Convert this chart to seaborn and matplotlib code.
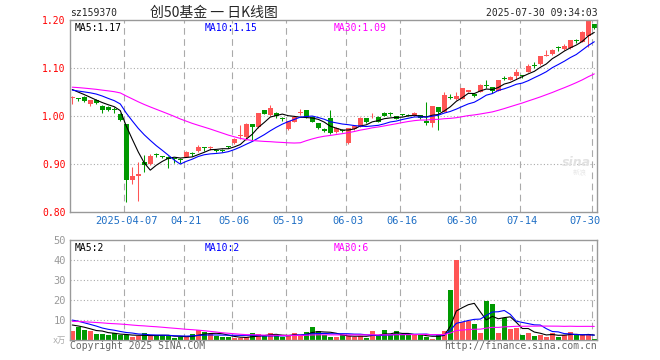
import matplotlib
matplotlib.use('Agg')
import matplotlib.pyplot as plt
import matplotlib.transforms as mtransforms
import numpy as np
import pandas as pd
import seaborn as sns

# 创50基金 sz159370 日K线, 2025-03-24 .. 2025-07-30 (88 个交易日)
opens = [1.037, 1.036, 1.039, 1.026, 1.034, 1.021, 1.018, 1.013, 1.004, 0.983,
         0.866, 0.876, 0.904, 0.899, 0.919, 0.916, 0.915, 0.911, 0.911, 0.915,
         0.922, 0.927, 0.935, 0.934, 0.929, 0.929, 0.936, 0.943, 0.959, 0.956,
         0.983, 0.977, 1.012, 1.002, 1.007, 0.994, 0.973, 0.988, 1.006, 1.012,
         0.998, 0.985, 0.973, 0.995, 0.966, 0.970, 0.944, 0.972, 0.978, 0.995,
         0.999, 0.998, 1.007, 1.005, 1.000, 1.003, 1.002, 1.000, 1.002, 0.990,
         0.985, 1.018, 1.009, 1.039, 1.035, 1.036, 1.051, 1.046, 1.051, 1.063,
         1.060, 1.053, 1.079, 1.075, 1.083, 1.084, 1.092, 1.105, 1.108, 1.126,
         1.130, 1.142, 1.139, 1.141, 1.157, 1.155, 1.166, 1.191]
highs = [1.042, 1.038, 1.041, 1.034, 1.036, 1.023, 1.020, 1.018, 1.007, 0.983,
         0.893, 0.904, 0.918, 0.920, 0.922, 0.917, 0.916, 0.912, 0.912, 0.927,
         0.926, 0.939, 0.936, 0.937, 0.930, 0.931, 0.938, 0.955, 0.981, 0.985,
         0.984, 1.007, 1.013, 1.023, 1.009, 0.997, 0.990, 1.000, 1.014, 1.013,
         1.001, 0.986, 0.975, 1.012, 0.978, 0.972, 0.976, 0.982, 0.997, 0.996,
         1.007, 0.999, 1.009, 1.008, 1.001, 1.005, 1.004, 1.008, 1.003, 1.030,
         1.021, 1.019, 1.051, 1.045, 1.050, 1.059, 1.055, 1.047, 1.066, 1.075,
         1.061, 1.076, 1.084, 1.084, 1.097, 1.086, 1.108, 1.112, 1.125, 1.137,
         1.139, 1.146, 1.150, 1.159, 1.160, 1.177, 1.199, 1.192]
lows = [1.026, 1.031, 1.030, 1.020, 1.025, 1.006, 1.010, 1.007, 0.990, 0.820,
        0.858, 0.823, 0.884, 0.897, 0.914, 0.912, 0.891, 0.903, 0.903, 0.914,
        0.916, 0.926, 0.928, 0.930, 0.925, 0.925, 0.933, 0.942, 0.953, 0.950,
        0.951, 0.975, 1.004, 1.000, 0.995, 0.990, 0.971, 0.987, 1.002, 0.996,
        0.987, 0.972, 0.966, 0.962, 0.964, 0.967, 0.942, 0.971, 0.977, 0.986,
        0.996, 0.987, 0.999, 1.000, 0.993, 0.999, 0.999, 0.999, 0.994, 0.982,
        0.977, 0.970, 1.008, 1.036, 1.033, 1.035, 1.050, 1.040, 1.050, 1.059,
        1.048, 1.052, 1.074, 1.074, 1.077, 1.079, 1.091, 1.100, 1.107, 1.124,
        1.127, 1.136, 1.138, 1.140, 1.153, 1.154, 1.143, 1.181]
closes = [1.038, 1.035, 1.032, 1.033, 1.028, 1.012, 1.012, 1.012, 0.992, 0.867,
          0.875, 0.879, 0.898, 0.917, 0.918, 0.915, 0.911, 0.910, 0.908, 0.924,
          0.921, 0.935, 0.934, 0.935, 0.927, 0.928, 0.935, 0.953, 0.960, 0.984,
          0.978, 1.006, 1.005, 1.016, 1.000, 0.993, 0.989, 0.998, 1.007, 0.997,
          0.988, 0.975, 0.969, 0.965, 0.976, 0.969, 0.975, 0.980, 0.996, 0.988,
          1.000, 0.988, 1.000, 1.004, 0.994, 1.002, 1.001, 1.007, 0.995, 0.985,
          1.020, 1.009, 1.044, 1.038, 1.042, 1.058, 1.054, 1.042, 1.065, 1.062,
          1.053, 1.075, 1.078, 1.082, 1.092, 1.083, 1.104, 1.104, 1.124, 1.127,
          1.138, 1.141, 1.146, 1.158, 1.156, 1.176, 1.198, 1.183]
# 成交量 (万)
volumes = [4.5, 6.5, 5.0, 4.5, 3.2, 3.2, 2.5, 3.5, 2.3, 2.3,
           1.7, 2.0, 3.4, 1.8, 2.3, 2.3, 2.0, 1.2, 1.4, 1.4,
           2.8, 5.0, 4.0, 3.0, 2.0, 1.7, 1.5, 0.8, 1.0, 1.5,
           3.5, 3.0, 2.0, 3.3, 2.3, 1.5, 2.3, 3.5, 2.3, 4.2,
           6.5, 4.5, 2.5, 1.7, 1.7, 2.3, 2.0, 1.7, 2.0, 1.2,
           4.5, 2.3, 5.0, 2.3, 4.5, 2.3, 2.3, 2.3, 2.3, 1.7,
           0.7, 2.3, 4.5, 25.0, 40.0, 9.0, 9.7, 8.0, 3.7, 19.7,
           18.0, 3.7, 10.8, 5.7, 6.0, 2.5, 3.7, 2.0, 2.7, 1.7,
           3.7, 1.7, 2.3, 4.2, 2.3, 2.3, 2.8, 0.7]

# 前29个交易日 (只用于均线起点), 由图中均线起始位置估计
prev_closes = [1.060, 1.065, 1.070, 1.066, 1.062, 1.058, 1.064, 1.068, 1.060, 1.056,
               1.061, 1.066, 1.070, 1.065, 1.060, 1.058, 1.063, 1.067, 1.062, 1.059,
               1.055, 1.050, 1.052, 1.054, 1.053, 1.062, 1.058, 1.061, 1.057]
prev_volumes = [8.0, 9.5, 10.0, 8.5, 9.0, 10.5, 8.0, 7.5, 9.0, 10.0,
                9.5, 8.5, 9.0, 8.0, 9.5, 10.0, 8.5, 9.0, 9.5, 8.5,
                12.0, 13.0, 12.5, 11.5, 13.0, 9.0, 8.0, 8.5, 7.5]

tick_pos = [9, 19, 27, 36, 46, 55, 65, 75, 87]
tick_labels = ['2025-04-07', '04-21', '05-06', '05-19', '06-03',
               '06-16', '06-30', '07-14', '07-30']
price_ticks = [0.80, 0.90, 1.00, 1.10, 1.20]
vol_ticks = [10, 20, 30, 40, 50]
ma_labels = ['MA5:1.17', 'MA10:1.15', 'MA30:1.09']
vol_ma_labels = ['MA5:2', 'MA10:2', 'MA30:6']

RED = '#ff5555'
GREEN = '#009900'
MA_COLORS = ['black', '#0000ff', '#ff00ff']
GRID = '#aaaaaa'

sns.set_style('white')
plt.rcParams['font.family'] = ['DejaVu Sans Mono', 'Noto Sans CJK SC']

n = len(closes)
df = pd.DataFrame({'i': np.arange(n), 'open': opens, 'high': highs,
                   'low': lows, 'close': closes, 'vol': volumes})
df['up'] = df['close'] >= df['open']
all_c = pd.Series(prev_closes + closes)
all_v = pd.Series(prev_volumes + volumes)
for w in (5, 10, 30):
    df[f'ma{w}'] = all_c.rolling(w).mean().iloc[-n:].values
    df[f'vma{w}'] = all_v.rolling(w).mean().iloc[-n:].values

W, H = 660, 360
fig = plt.figure(figsize=(6.6, 3.6), dpi=100)
ax = fig.add_axes([70 / W, 1 - 212 / H, 527 / W, 192 / H])
axv = fig.add_axes([70 / W, 20 / H, 527 / W, 100 / H])


def fxy(x, y):
    return x / W, 1 - y / H


# 蜡烛图
cols = np.where(df['up'], RED, GREEN)
ax.vlines(df['i'], df['low'], df['high'], colors=cols, lw=0.75, zorder=2)
body_lo = np.minimum(df['open'], df['close'])
body_h = np.maximum((df['close'] - df['open']).abs(), 0.0018)
ax.bar(df['i'], body_h, bottom=body_lo, width=0.8, color=cols, linewidth=0, zorder=2)

for w, c in zip((5, 10, 30), MA_COLORS):
    sns.lineplot(data=df, x='i', y=f'ma{w}', ax=ax, color=c, lw=0.8, zorder=3)

# 成交量
sns.barplot(data=df, x='i', y='vol', hue='up', palette={True: RED, False: GREEN},
            native_scale=True, dodge=False, legend=False, width=0.83,
            saturation=1, errorbar=None, linewidth=0, ax=axv, zorder=2)
for w, c in zip((5, 10, 30), MA_COLORS):
    sns.lineplot(data=df, x='i', y=f'vma{w}', ax=axv, color=c, lw=0.8, zorder=3)

for a in (ax, axv):
    a.set_xlim(-0.38, 87.45)
    a.set_xlabel('')
    a.set_ylabel('')
    for p in tick_pos:
        a.axvline(p - 0.33, color=GRID, lw=0.8, ls=(0, (6, 4)), zorder=0)
    for s in a.spines.values():
        s.set_color('#999999')
        s.set_linewidth(1.0)
    a.tick_params(length=0)

ax.set_ylim(0.80, 1.20)
for y in price_ticks[1:-1]:
    ax.axhline(y, color=GRID, lw=0.8, ls=(0, (1, 2)), zorder=0)
ax.set_yticks(price_ticks)
ax.set_yticklabels([f'{v:.2f}' for v in price_ticks], color='red', fontsize=7)
ax.tick_params(axis='y', pad=3)
ax.set_xticks(tick_pos)
ax.set_xticklabels(tick_labels, color='#1f6fc5', fontsize=7.5)
ax.tick_params(axis='x', pad=3)
last = ax.get_xticklabels()[-1]
last.set_horizontalalignment('right')
last.set_transform(last.get_transform()
                   + mtransforms.ScaledTranslation(6 / 100, 0, fig.dpi_scale_trans))

axv.set_ylim(0, 50)
for y in vol_ticks[:-1]:
    axv.axhline(y, color=GRID, lw=0.8, ls=(0, (1, 2)), zorder=0)
axv.set_yticks(vol_ticks)
axv.set_yticklabels([str(v) for v in vol_ticks], color='#999999', fontsize=7.5)
axv.tick_params(axis='y', pad=3)
axv.set_xticks([])

# 文字
fig.text(*fxy(70, 13), 'sz159370', fontsize=7, va='center', ha='left')
fig.text(*fxy(150, 13), '创50基金 一 日K线图', fontsize=10, va='center', ha='left',
         family=['Noto Sans CJK SC'])
fig.text(*fxy(598, 13), '2025-07-30 09:34:03', fontsize=7, va='center', ha='right')
for x, t, c in zip((75, 205, 334), ma_labels, MA_COLORS):
    fig.text(*fxy(x, 28), t, color=c, fontsize=7, va='center', ha='left')
for x, t, c in zip((75, 205, 334), vol_ma_labels, MA_COLORS):
    fig.text(*fxy(x, 248), t, color=c, fontsize=7, va='center', ha='left')
fig.text(*fxy(66, 340), 'x万', color='#aaaaaa', fontsize=6, va='center', ha='right')
fig.text(*fxy(70, 346), 'Copyright 2025 SINA.COM', color='#666666', fontsize=7,
         va='center', ha='left')
fig.text(*fxy(597, 346), 'http://finance.sina.com.cn', color='#666666', fontsize=7,
         va='center', ha='right')
fig.text(*fxy(576, 163), 'sina', color='#e2e2e2', fontsize=9, style='italic',
         weight='bold', va='center', ha='center', family=['DejaVu Sans'])
fig.text(*fxy(580, 173), '新浪', color='#e8e8e8', fontsize=5, va='center', ha='center',
         family=['Noto Sans CJK SC'])

fig.savefig('out.png', dpi=100)
